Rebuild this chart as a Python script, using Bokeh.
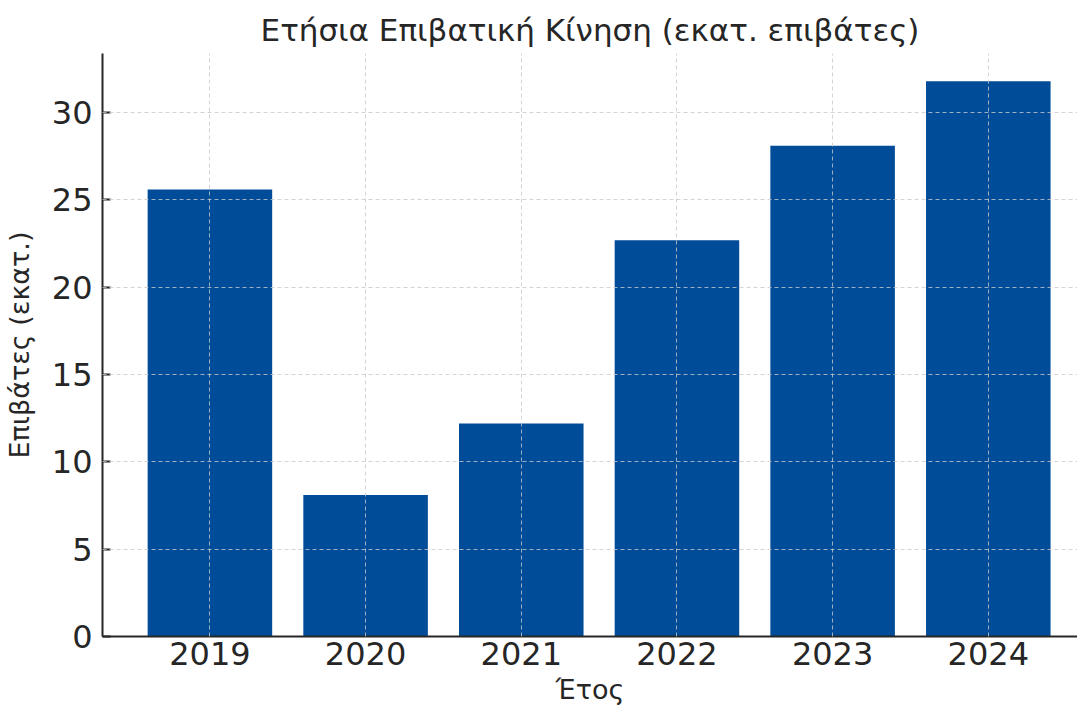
from bokeh.plotting import figure
from bokeh.models import Range1d, FixedTicker
from bokeh.embed import file_html
from bokeh.resources import INLINE

years = ["2019", "2020", "2021", "2022", "2023", "2024"]
passengers = [25.6, 8.1, 12.2, 22.7, 28.1, 31.8]
y_ticks = [0, 5, 10, 15, 20, 25, 30]

xs = list(range(len(years)))

p = figure(width=1077, height=707, output_backend="svg", toolbar_location=None,
           x_range=Range1d(-0.69, 5.573), y_range=Range1d(0, 33.39),
           title="Ετήσια Επιβατική Κίνηση (εκατ. επιβάτες)")
p.min_border_left = 100
p.min_border_right = 0
p.min_border_top = 53
p.min_border_bottom = 69
p.outline_line_color = None

p.vbar(x=xs, top=passengers, width=0.8, fill_color="#004c99", line_color=None)

FONT = "DejaVu Sans"
TXT = "#262626"

p.title.text_font = FONT
p.title.text_font_size = "31px"
p.title.text_font_style = "normal"
p.title.text_color = TXT
p.title.align = "center"
p.title.offset = 5
p.title.standoff = 12

for ax in (p.xaxis[0], p.yaxis[0]):
    ax.major_label_text_font = FONT
    ax.major_label_text_font_size = "32px"
    ax.major_label_text_color = TXT
    ax.axis_label_text_font = FONT
    ax.axis_label_text_font_size = "27px"
    ax.axis_label_text_font_style = "normal"
    ax.axis_label_text_color = TXT
    ax.axis_line_color = TXT
    ax.axis_line_width = 2
    ax.minor_tick_line_color = None
    ax.major_tick_line_color = TXT
    ax.major_tick_line_width = 2

p.xaxis.ticker = FixedTicker(ticks=xs)
p.xaxis.major_label_overrides = {i: y for i, y in zip(xs, years)}
p.xaxis.axis_label = "Έτος"
p.xaxis.major_tick_in = 0
p.xaxis.major_tick_out = 0
p.xaxis.major_label_standoff = 5
p.xaxis.axis_label_standoff = 6

p.yaxis.ticker = FixedTicker(ticks=y_ticks)
p.yaxis.axis_label = "Επιβάτες (εκατ.)"
p.yaxis.major_tick_in = 8
p.yaxis.major_tick_out = 0
p.yaxis.major_label_standoff = 10
p.yaxis.axis_label_standoff = 14

for g in (p.xgrid[0], p.ygrid[0]):
    g.grid_line_color = "#c8c8c8"
    g.grid_line_alpha = 0.8
    g.grid_line_dash = "4 3"
    g.grid_line_width = 1
    g.level = "annotation"
p.xgrid.ticker = FixedTicker(ticks=xs)
p.ygrid.ticker = FixedTicker(ticks=y_ticks)

open("out.html", "w").write(file_html(p, INLINE))
